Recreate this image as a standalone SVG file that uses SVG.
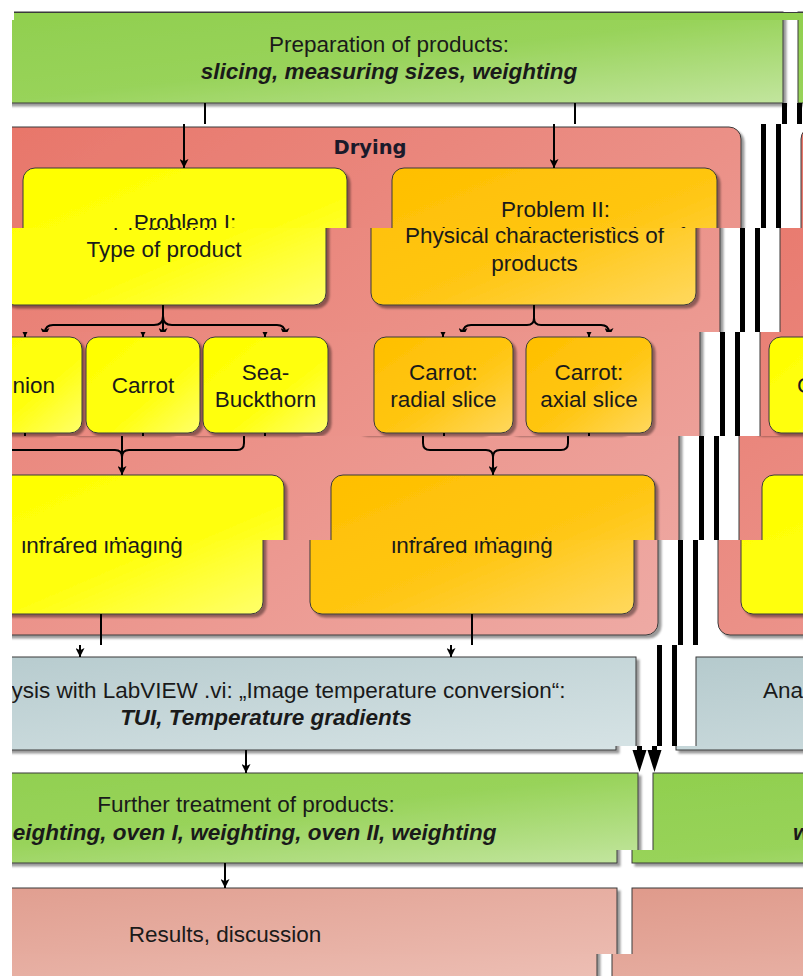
<svg xmlns="http://www.w3.org/2000/svg" xmlns:xlink="http://www.w3.org/1999/xlink" width="803" height="976" viewBox="0 0 803 976">
  <defs>
    <style>
      .t { font-family: "Liberation Sans", Arial, sans-serif; font-size: 22.5px; fill: #1a1a1a; text-anchor: middle; }
      .s { text-anchor: start; }
      .bi { font-weight: bold; font-style: italic; }
      .title { font-family: "DejaVu Sans", Verdana, sans-serif; font-weight: bold; font-size: 19.5px; fill: #1a1a2a; text-anchor: middle; }
      .box { stroke: #3a3a3a; stroke-width: 1; filter: url(#sh); }
      .c { fill: none; stroke: #000; stroke-width: 2; }
      .c.a { marker-end: url(#ah); }
      .thick { fill: none; stroke: #000; stroke-width: 5; }
    </style>
    <linearGradient id="gGreen" x1="0" y1="0" x2="1" y2="1">
      <stop offset="0" stop-color="#90cf4e"/>
      <stop offset="0.5" stop-color="#98d35a"/>
      <stop offset="1" stop-color="#c2e59e"/>
    </linearGradient>
    <linearGradient id="gDry" x1="0" y1="0" x2="1" y2="1">
      <stop offset="0" stop-color="#e8766a"/>
      <stop offset="1" stop-color="#eeaaa4"/>
    </linearGradient>
    <linearGradient id="gYel" x1="0" y1="0" x2="1" y2="1">
      <stop offset="0" stop-color="#ffff00"/>
      <stop offset="0.6" stop-color="#ffff10"/>
      <stop offset="1" stop-color="#ffff6a"/>
    </linearGradient>
    <linearGradient id="gOra" x1="0" y1="0" x2="1" y2="1">
      <stop offset="0" stop-color="#ffbf00"/>
      <stop offset="0.55" stop-color="#ffc612"/>
      <stop offset="1" stop-color="#ffd85e"/>
    </linearGradient>
    <linearGradient id="gAna" x1="0" y1="0" x2="1" y2="1">
      <stop offset="0" stop-color="#b5cacd"/>
      <stop offset="1" stop-color="#d6e3e5"/>
    </linearGradient>
    <linearGradient id="gRes" x1="0" y1="0" x2="1" y2="1">
      <stop offset="0" stop-color="#df9a8b"/>
      <stop offset="1" stop-color="#eec2b8"/>
    </linearGradient>
    <filter id="sh" x="-5%" y="-10%" width="115%" height="130%">
      <feDropShadow dx="3" dy="3" stdDeviation="1.2" flood-color="#000" flood-opacity="0.4"/>
    </filter>
    <marker id="ah" viewBox="0 0 10 10" refX="10" refY="5" markerWidth="9" markerHeight="9" markerUnits="userSpaceOnUse" orient="auto">
      <path d="M0,0 L10,5 L0,10 L2.5,5 Z" fill="#000"/>
    </marker>

    <!-- horizontal strips: each band shows the chart moved a little further left -->
    <clipPath id="b0"><rect x="14" y="0" width="789" height="20"/></clipPath>
    <clipPath id="b1"><rect x="12" y="20" width="791" height="104"/></clipPath>
    <clipPath id="b2"><rect x="12" y="124" width="791" height="104"/></clipPath>
    <clipPath id="b3"><rect x="12" y="228" width="791" height="104"/></clipPath>
    <clipPath id="b4"><rect x="12" y="332" width="791" height="104"/></clipPath>
    <clipPath id="b5"><rect x="12" y="436" width="791" height="104"/></clipPath>
    <clipPath id="b6"><rect x="12" y="540" width="791" height="105"/></clipPath>
    <clipPath id="b7"><rect x="12" y="645" width="791" height="101"/></clipPath>
    <clipPath id="b8"><rect x="12" y="746" width="791" height="104"/></clipPath>
    <clipPath id="b9"><rect x="12" y="850" width="791" height="104"/></clipPath>
    <clipPath id="b10"><rect x="12" y="954" width="791" height="22"/></clipPath>

    <!-- the chart itself -->
    <g id="chart">
      <g id="preparation">
        <rect class="box" x="-5" y="12" width="788" height="91" fill="url(#gGreen)"/>
        <rect class="box" x="798" y="12" width="800" height="91" fill="url(#gGreen)"/>
        <rect x="-5" y="12" width="1603" height="8" fill="#91d04f"/>
        <line x1="-5" y1="12.5" x2="1598" y2="12.5" stroke="#3a3a3a"/>
        <text class="t" x="389" y="52">Preparation of products:</text>
        <text class="t bi" x="389" y="79">slicing, measuring sizes, weighting</text>
      </g>

      <g id="drying">
        <rect class="box" x="20" y="127" width="742" height="508" rx="12" fill="url(#gDry)"/>
        <text class="title" x="391" y="154">Drying</text>
      </g>
      <g id="drying-right">
        <rect class="box" x="822" y="127" width="742" height="508" rx="12" fill="url(#gDry)"/>
      </g>

      <g id="problem1">
        <rect class="box" x="44" y="168" width="324" height="137" rx="12" fill="url(#gYel)"/>
        <text class="t" x="206" y="230">Problem I:</text>
        <text class="t" x="206" y="257">Type of product</text>
      </g>
      <g id="problem2">
        <rect class="box" x="413" y="168" width="325" height="137" rx="12" fill="url(#gOra)"/>
        <text class="t" x="576.5" y="216.5">Problem II:</text>
        <text class="t" x="576.5" y="242.5">Physical characteristics of</text>
        <text class="t" x="576.5" y="270.5">products</text>
      </g>

      <g id="onion">
        <rect class="box" x="30" y="337" width="114" height="96" rx="12" fill="url(#gYel)"/>
        <text class="t s" x="74.5" y="393">nion</text>
      </g>
      <g id="carrot">
        <rect class="box" x="148" y="337" width="114" height="96" rx="12" fill="url(#gYel)"/>
        <text class="t" x="205" y="393">Carrot</text>
      </g>
      <g id="seabuckthorn">
        <rect class="box" x="265" y="337" width="125" height="96" rx="12" fill="url(#gYel)"/>
        <text class="t" x="327.5" y="380">Sea-</text>
        <text class="t" x="327.5" y="407">Buckthorn</text>
      </g>
      <g id="radial">
        <rect class="box" x="436" y="337" width="139" height="96" rx="12" fill="url(#gOra)"/>
        <text class="t" x="505.5" y="380">Carrot:</text>
        <text class="t" x="505.5" y="407">radial slice</text>
      </g>
      <g id="axial">
        <rect class="box" x="588" y="337" width="126" height="96" rx="12" fill="url(#gOra)"/>
        <text class="t" x="651" y="380">Carrot:</text>
        <text class="t" x="651" y="407">axial slice</text>
      </g>
      <g id="product-right">
        <rect class="box" x="831" y="337" width="120" height="96" rx="12" fill="url(#gYel)"/>
        <text class="t s" x="859" y="393">C</text>
      </g>

      <g id="infrared1">
        <rect class="box" x="44" y="475" width="323" height="139" rx="12" fill="url(#gYel)"/>
        <text class="t" x="206" y="553">infrared imaging</text>
      </g>
      <g id="infrared2">
        <rect class="box" x="414" y="475" width="324" height="139" rx="12" fill="url(#gOra)"/>
        <text class="t" x="576" y="553">infrared imaging</text>
      </g>
      <g id="infrared-right">
        <rect class="box" x="845" y="475" width="325" height="139" rx="12" fill="url(#gYel)"/>
      </g>

      <g id="analysis">
        <rect class="box" x="20" y="657" width="741" height="93" fill="url(#gAna)"/>
        <text class="t s" x="136.5" y="698">ysis with LabVIEW .vi: „Image temperature conversion“:</text>
        <text class="t bi" x="391" y="725">TUI, Temperature gradients</text>
      </g>
      <g id="analysis-right">
        <rect class="box" x="821" y="657" width="741" height="93" fill="url(#gAna)"/>
        <text class="t s" x="888" y="698">Ana</text>
      </g>

      <g id="treatment">
        <rect class="box" x="-2" y="773" width="785" height="90" fill="url(#gGreen)"/>
        <text class="t" x="391" y="812">Further treatment of products:</text>
        <text class="t s bi" x="157.8" y="840">eighting, oven I, weighting, oven II, weighting</text>
      </g>
      <g id="treatment-right">
        <rect class="box" x="798" y="773" width="800" height="90" fill="url(#gGreen)"/>
        <text class="t s bi" x="938" y="840">w</text>
      </g>

      <g id="results">
        <rect class="box" x="-2" y="888" width="785" height="110" fill="url(#gRes)"/>
        <text class="t" x="391" y="942">Results, discussion</text>
      </g>
      <g id="results-right">
        <rect class="box" x="798" y="888" width="800" height="110" fill="url(#gRes)"/>
      </g>

      <g id="connectors">
        <path class="c a" d="M205,103V168"/>
        <path class="c a" d="M575,103V168"/>
        <path class="c a" d="M205,305V337"/>
        <path class="c a" d="M205,316Q205,325 196,325H95Q87,325 87,333V337"/>
        <path class="c a" d="M205,316Q205,325 214,325H319Q327,325 327,333V337"/>
        <path class="c a" d="M576,305V318Q576,325 569,325H513Q505,325 505,333V337"/>
        <path class="c a" d="M576,318Q576,325 583,325H643Q651,325 651,333V337"/>
        <path class="c" d="M87,433V443Q87,450 94,450H198Q205,450 205,457"/>
        <path class="c" d="M327,433V443Q327,450 320,450H212Q205,450 205,457"/>
        <path class="c a" d="M205,433V475"/>
        <path class="c a" d="M506,433V443Q506,450 513,450H569Q576,450 576,457V475"/>
        <path class="c" d="M651,433V443Q651,450 644,450H583Q576,450 576,457"/>
        <path class="c a" d="M205,614V657"/>
        <path class="c a" d="M576,614V657"/>
        <path class="c a" d="M391,750V773"/>
        <path class="c a" d="M391,863V888"/>
        <path class="thick" d="M784.5,103V752"/>
        <path class="thick" d="M799.5,103V752"/>
        <path d="M777.5,750L791.5,750L784.5,772Z" fill="#000"/>
        <path d="M792.5,750L806.5,750L799.5,772Z" fill="#000"/>
      </g>
    </g>
  </defs>

  <rect width="803" height="976" fill="#fff"/>
  <g clip-path="url(#b0)"><use xlink:href="#chart" href="#chart"/></g>
  <g clip-path="url(#b1)"><use xlink:href="#chart" href="#chart"/></g>
  <g clip-path="url(#b2)"><use xlink:href="#chart" href="#chart" x="-21"/></g>
  <g clip-path="url(#b3)"><use xlink:href="#chart" href="#chart" x="-42"/></g>
  <g clip-path="url(#b4)"><use xlink:href="#chart" href="#chart" x="-62"/></g>
  <g clip-path="url(#b5)"><use xlink:href="#chart" href="#chart" x="-83"/></g>
  <g clip-path="url(#b6)"><use xlink:href="#chart" href="#chart" x="-104"/></g>
  <g clip-path="url(#b7)"><use xlink:href="#chart" href="#chart" x="-125"/></g>
  <g clip-path="url(#b8)"><use xlink:href="#chart" href="#chart" x="-145"/></g>
  <g clip-path="url(#b9)"><use xlink:href="#chart" href="#chart" x="-166"/></g>
  <g clip-path="url(#b10)"><use xlink:href="#chart" href="#chart" x="-186"/></g>
</svg>
